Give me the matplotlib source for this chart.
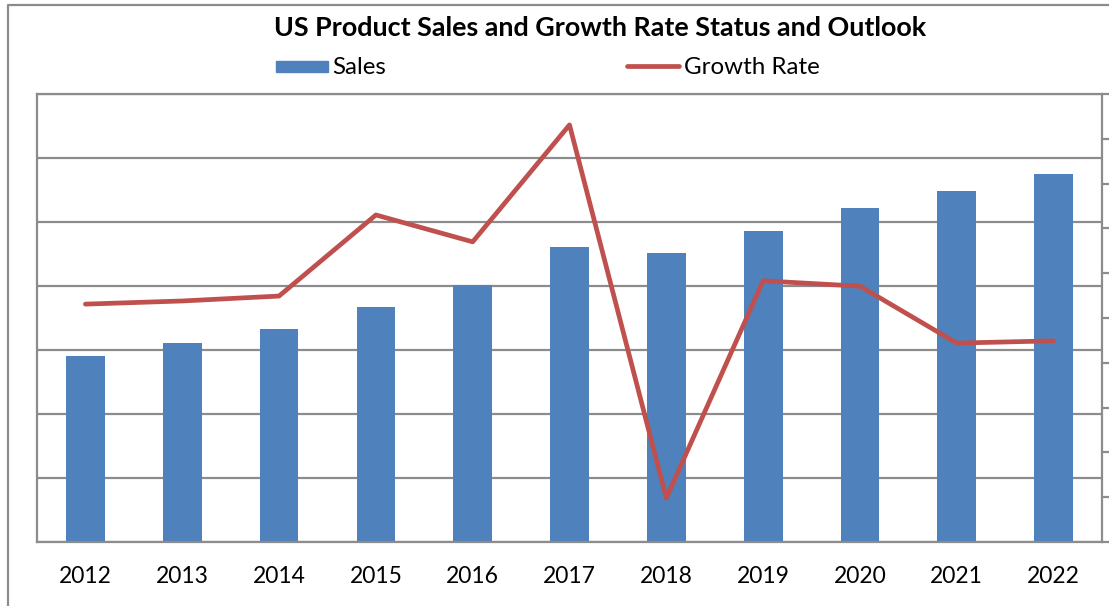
import numpy as np
import matplotlib.pyplot as plt
from matplotlib.lines import Line2D
from matplotlib.patches import Rectangle

years = ["2012", "2013", "2014", "2015", "2016", "2017", "2018", "2019", "2020", "2021", "2022"]
# sales (left axis, labels hidden in the original)
sales = [29.1, 31.1, 33.3, 36.7, 40.2, 46.1, 45.2, 48.6, 52.2, 54.8, 57.5]
# growth rate (right axis, labels hidden in the original)
growth = [5.31, 5.38, 5.49, 7.30, 6.70, 9.31, 0.98, 5.83, 5.71, 4.44, 4.49]

BLUE = "#4F81BD"
RED = "#C0504D"
GRID = "#8C8C8C"
FONT = "Lato"

fig = plt.figure(figsize=(11.09, 6.06), dpi=100)
ax = fig.add_axes([37 / 1109, 64 / 606, 1065 / 1109, 448 / 606])
x = np.arange(len(years))

ax.bar(x, sales, width=0.40, color=BLUE, zorder=2, label="Sales")
ax.set_xlim(-0.5, len(years) - 0.5)
ax.set_ylim(0, 70)
ax.set_yticks(np.arange(0, 71, 10))
ax.yaxis.grid(True, color=GRID, linewidth=1.6, zorder=0)
ax.set_axisbelow(True)
ax.tick_params(axis="y", left=False, right=False, labelleft=False, length=0)
ax.tick_params(axis="x", bottom=False, labelsize=16.5, pad=14)
ax.set_xticks(x)
ax.set_xticklabels(years, fontfamily=FONT)
for s in ax.spines.values():
    s.set_color(GRID)
    s.set_linewidth(1.6)

ax2 = ax.twinx()
ax2.plot(x, growth, color=RED, linewidth=3.4, solid_capstyle="round", zorder=3, label="Growth Rate")
ax2.set_ylim(0, 10)
ax2.set_yticks(np.arange(0, 11, 1))
ax2.tick_params(axis="y", left=False, labelleft=False, right=True, labelright=False,
                direction="out", length=8, width=1.6, color=GRID)
for s in ax2.spines.values():
    s.set_visible(False)

fig.text(0.5415, 1 - 28 / 606, "US Product Sales and Growth Rate Status and Outlook",
         ha="center", va="center", fontsize=19.4, fontweight="bold", fontfamily=FONT)

# legend drawn by hand to match the wide spacing
fig.patches.append(Rectangle((276 / 1109, 1 - 72 / 606), 52 / 1109, 11 / 606,
                             transform=fig.transFigure, color=BLUE))
fig.text(332 / 1109, 1 - 67 / 606, "Sales", ha="left", va="center", fontsize=17.4, fontfamily=FONT)
fig.add_artist(Line2D([627 / 1109, 679 / 1109], [1 - 66 / 606, 1 - 66 / 606],
                      transform=fig.transFigure, color=RED, linewidth=3.4, solid_capstyle="round"))
fig.text(684 / 1109, 1 - 67 / 606, "Growth Rate", ha="left", va="center", fontsize=17.4, fontfamily=FONT)

# outer chart border (partly cut off)
fig.add_artist(Line2D([8 / 1109, 8 / 1109, 1.0], [0, 1 - 5 / 606, 1 - 5 / 606],
                      transform=fig.transFigure, color=GRID, linewidth=1.6))

fig.savefig("out.png", dpi=100)
